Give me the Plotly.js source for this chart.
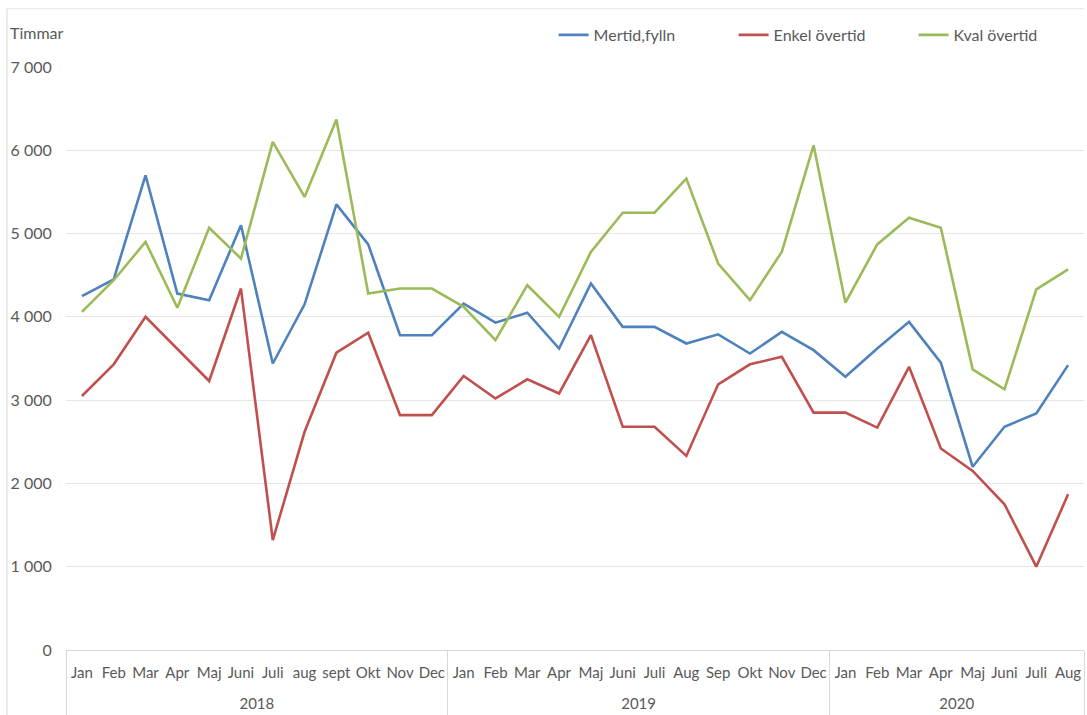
<!DOCTYPE html>
<html>
<head>
<meta charset="utf-8">
<script src="https://cdn.plot.ly/plotly-3.0.1.min.js"></script>
<style>html,body{margin:0;padding:0;background:#fff;}#chart{width:1087px;height:715px;}</style>
</head>
<body>
<div id="chart"></div>
<script>
const years = ["2018","2018","2018","2018","2018","2018","2018","2018","2018","2018","2018","2018",
               "2019","2019","2019","2019","2019","2019","2019","2019","2019","2019","2019","2019",
               "2020","2020","2020","2020","2020","2020","2020","2020"];
// 2019 Okt/Nov/Dec carry a zero-width space so the multicategory axis keeps them after Aug/Sep
const months = ["Jan","Feb","Mar","Apr","Maj","Juni","Juli","aug","sept","Okt","Nov","Dec",
                "Jan","Feb","Mar","Apr","Maj","Juni","Juli","Aug","Sep","Okt\u200B","Nov\u200B","Dec\u200B",
                "Jan","Feb","Mar","Apr","Maj","Juni","Juli","Aug"];
const mertid = [4250,4450,5700,4280,4200,5100,3440,4150,5350,4870,3780,3780,
                4160,3930,4050,3620,4400,3880,3880,3680,3790,3560,3820,3600,
                3280,3620,3940,3450,2200,2680,2840,3420];
const enkel  = [3050,3430,4000,3610,3230,4340,1320,2620,3570,3810,2820,2820,
                3290,3020,3250,3080,3780,2680,2680,2330,3190,3430,3520,2850,
                2850,2670,3400,2420,2150,1750,1000,1870];
const kval   = [4060,4440,4900,4110,5070,4700,6100,5440,6370,4280,4340,4340,
                4120,3720,4380,4000,4780,5250,5250,5660,4640,4200,4780,6060,
                4170,4870,5190,5070,3370,3130,4330,4570];
const seriesNames = ["Mertid,fylln","Enkel övertid","Kval övertid"];
const colors = ["#4F81BD","#C0504D","#9BBB59"];
const yTicks = [0,1000,2000,3000,4000,5000,6000,7000];

const xcat = [years, months];
const data = [mertid, enkel, kval].map((v,i)=>({
  type:"scatter", mode:"lines", x:xcat, y:v, name:seriesNames[i],
  line:{color:colors[i], width:2.6}
}));

const fam = "Lato, 'Open Sans', sans-serif";
const txt = "#595959";
const layout = {
  width:1087, height:715,
  margin:{l:66, r:3, t:67, b:65, autoexpand:false},
  paper_bgcolor:"#fff", plot_bgcolor:"#fff",
  font:{family:fam, size:16, color:txt},
  separators:", ",
  showlegend:true,
  legend:{orientation:"h", x:0.479, y:1.055, xanchor:"left", yanchor:"middle",
          itemwidth:30, entrywidth:135, entrywidthmode:"pixels",
          font:{family:fam, size:16, color:txt}},
  xaxis:{type:"multicategory",
         showgrid:false, showline:true, linecolor:"#d9d9d9", linewidth:1,
         showdividers:true, dividercolor:"#d9d9d9", dividerwidth:1,
         ticks:"", tickangle:0, ticklabelstandoff:9,
         tickfont:{family:fam, size:15, color:txt}, range:[-0.5,31.5]},
  yaxis:{range:[0,7000], tickvals:yTicks, separatethousands:true, tickformat:",d",
         showgrid:true, gridcolor:"#e6e6e6", gridwidth:1, zeroline:false, showline:false,
         ticks:"outside", ticklen:10, tickcolor:"rgba(0,0,0,0)",
         tickfont:{family:fam, size:16, color:txt}},
  annotations:[{text:"Timmar", xref:"paper", yref:"paper", x:-0.057, y:1.06, xanchor:"left", yanchor:"middle",
                showarrow:false, font:{family:fam, size:16, color:txt}}],
  shapes:[
    {type:"line", xref:"paper", yref:"paper", x0:-0.058, x1:-0.058, y0:1.1, y1:-0.2, line:{color:"#d9d9d9", width:1}},
    {type:"line", xref:"paper", yref:"paper", x0:-0.058, x1:1, y0:1.1, y1:1.1, line:{color:"#e6e6e6", width:1}}
  ]
};
Plotly.newPlot("chart", data, layout, {displayModeBar:false, staticPlot:true}).then(function(gd){
  // push the year row down to leave room for the month row, and stretch the group dividers
  gd.querySelectorAll(".xtick2").forEach(function(g){
    const t = g.querySelector("text") || g;
    const prev = t.getAttribute("transform") || "";
    t.setAttribute("transform", prev + " translate(0,20)");
  });
  gd.querySelectorAll("path.xdivider").forEach(function(p){
    const d = p.getAttribute("d");
    if (d) p.setAttribute("d", d.replace(/v[-\d.]+/, "v70"));
  });
});
</script>
</body>
</html>
